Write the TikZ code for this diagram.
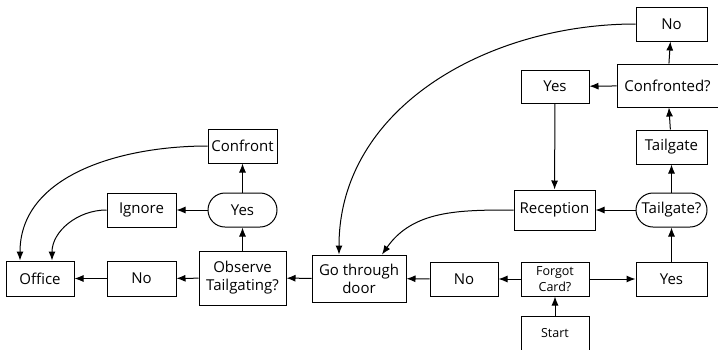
\documentclass[tikz,border=0pt]{standalone}
\usepackage{fontspec}
\setmainfont{Open Sans}
\usetikzlibrary{arrows.meta}
\begin{document}
\begin{tikzpicture}[x=1pt,y=-1pt,
  box/.style={draw,line width=1pt,inner sep=0pt,align=center,font=\fontsize{15}{18}\selectfont},
  small/.style={font=\fontsize{12.5}{15.5}\selectfont},
  pill/.style={box,rounded corners=17pt},
  arr/.style={-{Latex[length=9pt,width=7pt]},line width=1pt}]
\useasboundingbox (0,0) rectangle (718,349);
% right part
\node[box,minimum width=71pt,minimum height=34pt] (notop) at (671.5,24) {No};
\node[box,minimum width=101pt,minimum height=43pt] (confd) at (667.5,85.5) {Confronted?};
\node[box,minimum width=68pt,minimum height=33pt] (yestop) at (555,86.5) {Yes};
\node[box,minimum width=71pt,minimum height=34pt] (tailg) at (671.5,147) {Tailgate};
\node[box,minimum width=81pt,minimum height=40pt] (recep) at (554.5,210) {Reception};
\node[pill,minimum width=71pt,minimum height=34pt] (tailq) at (671.5,210) {Tailgate?};
\node[box,minimum width=68pt,minimum height=34pt] (nomid) at (464,279) {No};
\node[box,small,minimum width=68pt,minimum height=34pt] (forgot) at (555,279) {Forgot\\Card?};
\node[box,minimum width=71pt,minimum height=34pt] (yesbr) at (671.5,279) {Yes};
\node[box,small,minimum width=68pt,minimum height=34pt] (start) at (555,333) {Start};
% middle
\node[box,minimum width=94pt,minimum height=47pt] (door) at (359,278.5) {Go through\\door};
\node[box,minimum width=87pt,minimum height=54pt] (obs) at (242.5,278) {Observe\\Tailgating?};
% left part
\node[box,minimum width=69pt,minimum height=34pt] (confront) at (242.5,146) {Confront};
\node[pill,minimum width=69pt,minimum height=34pt] (yesl) at (242.5,210) {Yes};
\node[box,minimum width=69pt,minimum height=34pt] (ignore) at (141.5,210) {Ignore};
\node[box,minimum width=68pt,minimum height=35pt] (office) at (40,278.5) {Office};
\node[box,minimum width=69pt,minimum height=35pt] (nol) at (141.5,278.5) {No};
% connectors
\draw[arr] (start) -- (forgot);
\draw[arr] (forgot) -- (nomid);
\draw[arr] (forgot) -- (yesbr);
\draw[arr] (nomid) -- (door);
\draw[arr] (yesbr) -- (tailq);
\draw[arr] (tailq) -- (recep);
\draw[arr] (tailq) -- (tailg);
\draw[arr] (tailg) -- (confd);
\draw[arr] (confd) -- (yestop);
\draw[arr] (confd) -- (notop);
\draw[arr] (yestop) -- (recep);
\draw[arr] (recep.west) to[out=180,in=55] ([xshift=23pt]door.north);
\draw[arr] (notop.west) to[out=180,in=90] ([xshift=-20pt]door.north);
\draw[arr] (door) -- (obs);
\draw[arr] (obs) -- (nol);
\draw[arr] (nol) -- (office);
\draw[arr] (obs) -- (yesl);
\draw[arr] (yesl) -- (ignore);
\draw[arr] (yesl) -- (confront);
\draw[arr] (ignore.west) to[out=180,in=90] ([xshift=12pt]office.north);
\draw[arr] (confront.west) to[out=180,in=90] ([xshift=-20pt]office.north);
\end{tikzpicture}
\end{document}
